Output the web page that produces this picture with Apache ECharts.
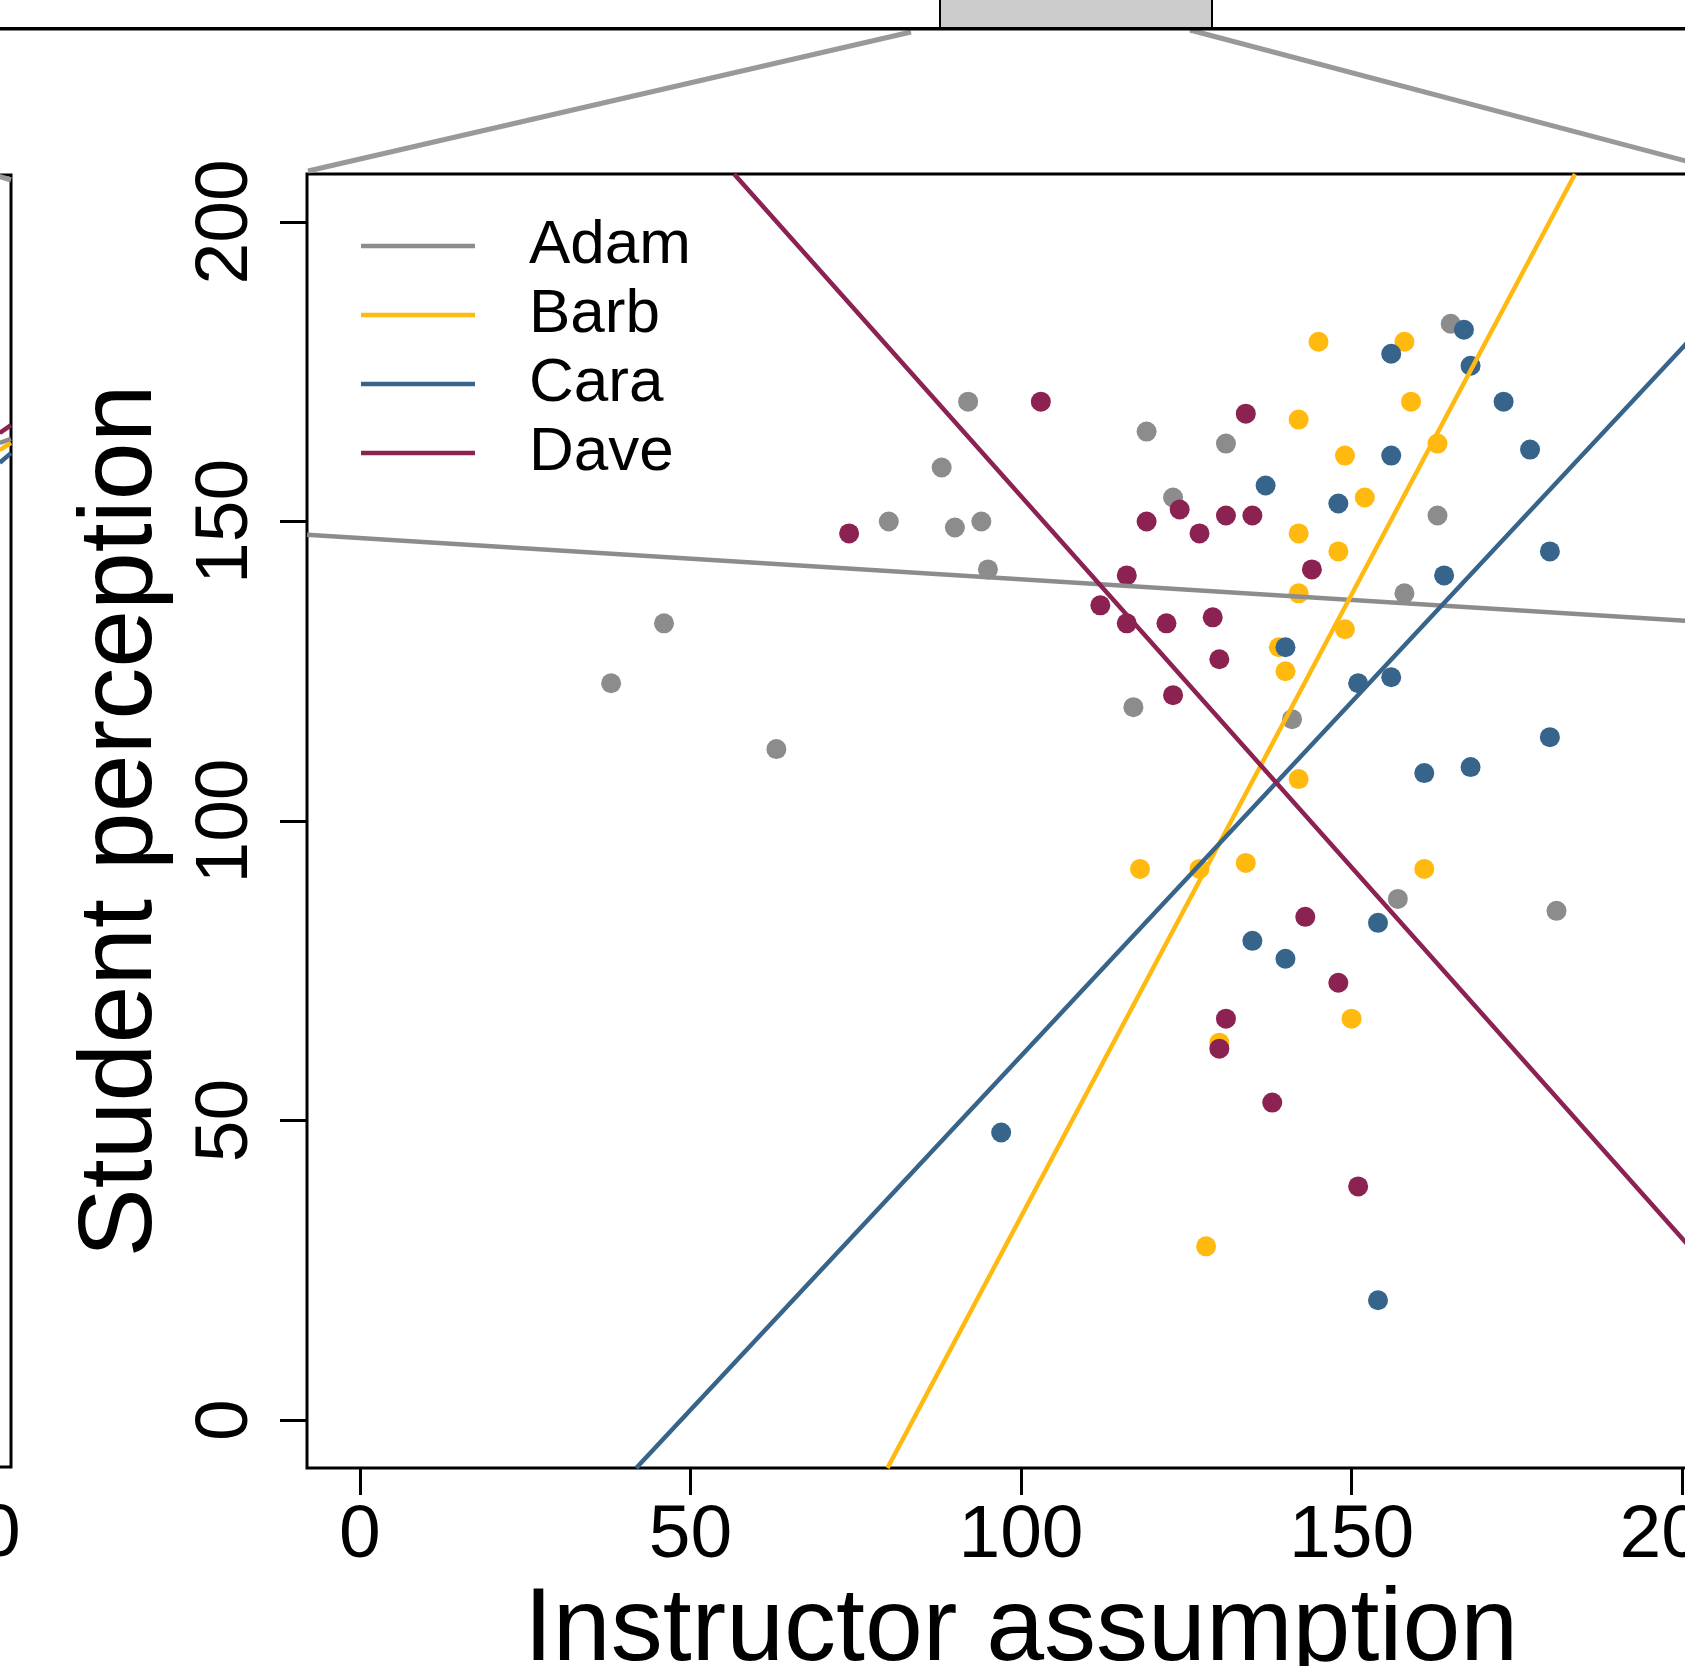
<!DOCTYPE html>
<html>
<head>
    <meta charset="utf-8">
    <title>Student perception vs instructor assumption</title>
    <script src="https://cdn.jsdelivr.net/npm/echarts@6/dist/echarts.min.js"></script>
    <style>
        html, body { margin: 0; padding: 0; background: #fff; }
    </style>
</head>
<body>
    <div id="chart" style="width: 1685px; height: 1666px;"></div>

    <script type="text/javascript">
        // tick labels
        var xTicks = [0, 50, 100, 150, 200];
        var yTicks = [0, 50, 100, 150, 200];

        var names = ['Adam', 'Barb', 'Cara', 'Dave'];
        var colors = ['#8C8C8C', '#FFB90F', '#36648B', '#8B2252'];

        // points [instructor assumption, student perception]
        var adamPts = [[38, 123], [46, 133], [63, 112], [80, 150], [88, 159], [90, 149], [92, 170],
            [94, 150], [95, 142], [117, 119], [119, 165], [123, 154], [131, 163], [141, 117],
            [157, 87], [158, 138], [163, 151], [165, 183], [181, 85]];
        var barbPts = [[145, 180], [158, 180], [159, 170], [142, 167], [149, 161], [163, 163],
            [152, 154], [142, 148], [148, 145], [142, 138], [149, 132], [139, 129], [140, 125],
            [142, 107], [118, 92], [127, 92], [134, 93], [161, 92], [130, 63], [150, 67], [128, 29]];
        var caraPts = [[167, 182], [156, 178], [168, 176], [173, 170], [177, 162], [156, 161],
            [137, 156], [148, 153], [180, 145], [164, 141], [140, 129], [151, 123], [156, 124],
            [180, 114], [161, 108], [168, 109], [154, 83], [135, 80], [140, 77], [97, 48], [154, 20]];
        var davePts = [[103, 170], [134, 168], [74, 148], [119, 150], [124, 152], [131, 151],
            [135, 151], [127, 148], [144, 142], [116, 141], [112, 136], [116, 133], [122, 133],
            [129, 134], [130, 127], [123, 121], [143, 84], [148, 73], [131, 67], [130, 62],
            [138, 53], [151, 39]];

        // fitted lines, end points (clipped by the grid)
        var adamFit = [[-8, 147.8], [208, 132.9]];
        var barbFit = [[79.8, -8], [183.8, 208]];
        var caraFit = [[41.8, -8], [208, 188.4]];
        var daveFit = [[56.6, 208], [208, 20.4]];

        // the bits of the neighbouring panel that show at the left edge
        var leftAdam = [[206.3, 163.2], [208, 163.9]];
        var leftBarb = [[206.3, 162.0], [208, 163.2]];
        var leftCara = [[206.3, 159.9], [208, 161.5]];
        var leftDave = [[206.3, 164.9], [208, 166.2]];

        var pts = [adamPts, barbPts, caraPts, davePts];
        var fits = [adamFit, barbFit, caraFit, daveFit];
        var leftFits = [leftAdam, leftBarb, leftCara, leftDave];

        var font = '"Liberation Sans", Arial, Helvetica, sans-serif';

        var series = [];
        pts.forEach(function (d, i) {
            series.push({
                name: names[i], type: 'scatter', xAxisIndex: 0, yAxisIndex: 0,
                data: d, symbolSize: 20, itemStyle: { color: colors[i], opacity: 1 },
                silent: true
            });
        });
        fits.forEach(function (d, i) {
            series.push({
                name: names[i], type: 'line', xAxisIndex: 0, yAxisIndex: 0,
                data: d, showSymbol: false, clip: true,
                itemStyle: { color: colors[i], opacity: 1 },
                lineStyle: { color: colors[i], width: 4.5, opacity: 1 }, silent: true
            });
        });
        leftFits.forEach(function (d, i) {
            series.push({
                name: names[i], type: 'line', xAxisIndex: 1, yAxisIndex: 1,
                data: d, showSymbol: false, clip: true,
                itemStyle: { color: colors[i], opacity: 1 },
                lineStyle: { color: colors[i], width: 4.5, opacity: 1 }, silent: true
            });
        });

        var tickStyle = { color: '#000', width: 3 };

        var chart = echarts.init(document.getElementById('chart'));
        chart.setOption({
            animation: false,
            backgroundColor: '#ffffff',
            grid: [
                { left: 307, top: 174, width: 1428, height: 1294, show: true,
                  borderColor: '#000', borderWidth: 3, backgroundColor: 'transparent',
                  outerBoundsMode: 'none', containLabel: false },
                { left: -1417, top: 175, width: 1428, height: 1292, show: true,
                  borderColor: '#000', borderWidth: 3, backgroundColor: 'transparent',
                  outerBoundsMode: 'none', containLabel: false }
            ],
            xAxis: [
                {
                    gridIndex: 0, type: 'value', min: -8, max: 208,
                    axisLine: { show: false, onZero: false }, splitLine: { show: false },
                    axisTick: { show: true, inside: false, customValues: xTicks, length: 27,
                        lineStyle: tickStyle },
                    axisLabel: { customValues: xTicks, fontSize: 75, color: '#000',
                        fontFamily: font, margin: 31 },
                    name: 'Instructor assumption', nameLocation: 'middle', nameGap: 90,
                    nameTextStyle: { fontSize: 104, color: '#000', fontFamily: font }
                },
                {
                    gridIndex: 1, type: 'value', min: -8, max: 208,
                    axisLine: { show: false, onZero: false }, splitLine: { show: false },
                    axisTick: { show: true, inside: false, customValues: xTicks, length: 27,
                        lineStyle: tickStyle },
                    axisLabel: { customValues: xTicks, fontSize: 75, color: '#000',
                        fontFamily: font, margin: 31 }
                }
            ],
            yAxis: [
                {
                    gridIndex: 0, type: 'value', min: -8, max: 208,
                    axisLine: { show: false, onZero: false }, splitLine: { show: false },
                    axisTick: { show: true, inside: false, customValues: yTicks, length: 27,
                        lineStyle: tickStyle },
                    axisLabel: { customValues: yTicks, rotate: 90, fontSize: 75, color: '#000',
                        fontFamily: font, margin: 43 },
                    name: 'Student perception', nameLocation: 'middle', nameGap: 133, nameRotate: 90,
                    nameTextStyle: { fontSize: 104, color: '#000', fontFamily: font }
                },
                {
                    gridIndex: 1, type: 'value', min: -8, max: 208,
                    axisLine: { show: false, onZero: false }, splitLine: { show: false },
                    axisTick: { show: false }, axisLabel: { show: false }
                }
            ],
            legend: {
                orient: 'vertical', left: 356, top: 210,
                itemWidth: 114, itemHeight: 4.5, itemGap: 7, icon: 'rect',
                selectedMode: false,
                data: names.map(function (n, i) {
                    return { name: n, itemStyle: { color: colors[i], opacity: 1 } };
                }),
                textStyle: { fontSize: 62, color: '#000', fontFamily: font, padding: [0, 0, 0, 49] }
            },
            graphic: [
                // top panel axis line and its highlighted window
                { type: 'rect', shape: { x: 940, y: -5, width: 272, height: 33 },
                  style: { fill: '#CCCCCC', stroke: '#000', lineWidth: 2 }, z: 10 },
                { type: 'line', shape: { x1: 0, y1: 28.7, x2: 1685, y2: 28.7 },
                  style: { stroke: '#000', lineWidth: 3.5 }, z: 11 },
                // zoom connectors
                { type: 'line', shape: { x1: 911, y1: 32, x2: 308, y2: 171 },
                  style: { stroke: '#999999', lineWidth: 5 }, z: 10 },
                { type: 'line', shape: { x1: 1190, y1: 30, x2: 1735, y2: 174 },
                  style: { stroke: '#999999', lineWidth: 5 }, z: 10 },
                { type: 'line', shape: { x1: -2, y1: 176, x2: 11, y2: 180 },
                  style: { stroke: '#999999', lineWidth: 5 }, z: 10 }
            ],
            series: series
        });
    </script>
</body>
</html>
